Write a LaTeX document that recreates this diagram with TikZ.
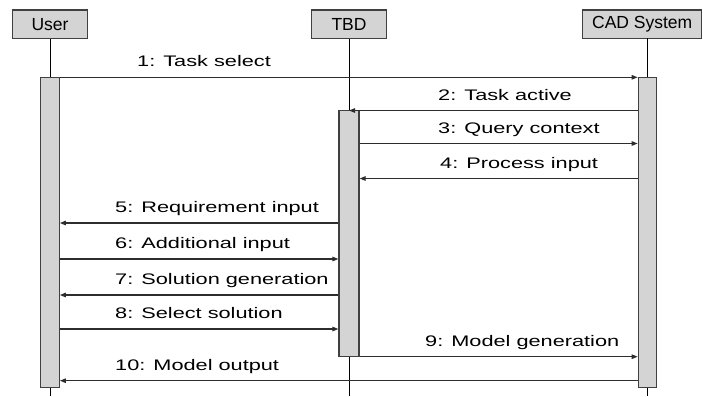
\documentclass[tikz,border=0pt]{standalone}
\usepackage{fontspec}
\setmainfont{Liberation Sans}
\newfontfamily\lblfont[FakeStretch=1.42]{Liberation Sans}
\usetikzlibrary{arrows.meta}
\definecolor{boxfill}{RGB}{212,212,212}
\definecolor{edgec}{RGB}{64,64,64}
\definecolor{inkc}{RGB}{45,45,45}
\begin{document}
\begin{tikzpicture}[x=1pt,y=-1pt,
  headbox/.style={draw=edgec, fill=boxfill, line width=1.2pt, minimum height=28.5pt, inner sep=0pt, font=\fontsize{17.5}{20}\selectfont},
  actbar/.style={draw=edgec, fill=boxfill, line width=1.2pt, inner sep=0pt},
  lifeline/.style={draw=black, line width=1pt},
  msg/.style={draw=inkc, line width=1.2pt, -{Triangle[length=6pt,width=4.5pt]}},
  lbl/.style={anchor=base west, inner sep=0pt, font=\lblfont\fontsize{15.3}{18}\selectfont}]
\useasboundingbox (0,0) rectangle (703,396);
% actors
\node[headbox, minimum width=74.4pt] (user) at (50,24.2) {User};
\node[headbox, minimum width=75.5pt] (tbd) at (349,24.2) {TBD};
\node[headbox, minimum width=119pt] (cad) at (642.2,24.2) {CAD System};
\coordinate (bottom) at (0,396);
% lifelines
\draw[lifeline] (user.south) -- (user.south |- bottom);
\draw[lifeline] (tbd.south) -- (tbd.south |- bottom);
\draw[lifeline] (647.5,38.5) -- (647.5,396);
% activation bars
\node[actbar, minimum width=18.5pt, minimum height=310pt] (ubar) at (50,232.3) {};
\node[actbar, minimum width=20pt, minimum height=246.2pt] (tbar) at (349,233.6) {};
\node[actbar, minimum width=18.5pt, minimum height=310pt] (cbar) at (647.5,232.3) {};
% message levels
\coordinate (m1) at (0,77.3);
\coordinate (m2) at (0,110.5);
\coordinate (m3) at (0,143.5);
\coordinate (m4) at (0,178.5);
\coordinate (m5) at (0,223);
\coordinate (m6) at (0,259);
\coordinate (m7) at (0,295);
\coordinate (m8) at (0,329);
\coordinate (m9) at (0,356.7);
\coordinate (m10) at (0,380.7);
% messages
\draw[msg] (ubar.east |- m1) -- (cbar.west |- m1);
\draw[msg] (cbar.west |- m2) -- (tbar.center |- m2);
\draw[msg] (tbar.east |- m3) -- (cbar.west |- m3);
\draw[msg] (cbar.west |- m4) -- (tbar.east |- m4);
\draw[msg] (tbar.west |- m5) -- (ubar.east |- m5);
\draw[msg] (ubar.east |- m6) -- (tbar.west |- m6);
\draw[msg] (tbar.west |- m7) -- (ubar.east |- m7);
\draw[msg] (ubar.east |- m8) -- (tbar.west |- m8);
\draw[msg] (tbar.east |- m9) -- (cbar.west |- m9);
\draw[msg] (cbar.west |- m10) -- (ubar.east |- m10);
% labels
\node[lbl] (l1) at (137,66.8) {1: Task select};
\node[lbl] (l2) at (438,100) {2: Task active};
\node[lbl] (l3) at (438,133) {3: Query context};
\node[lbl] (l4) at (440,168) {4: Process input};
\node[lbl] (l5) at (115,212.5) {5: Requirement input};
\node[lbl] (l6) at (115,248.5) {6: Additional input};
\node[lbl] (l7) at (115,284.5) {7: Solution generation};
\node[lbl] (l8) at (115,318.5) {8: Select solution};
\node[lbl] (l9) at (425,346.2) {9: Model generation};
\node[lbl] (l10) at (115,370.2) {10: Model output};
\end{tikzpicture}
\end{document}
